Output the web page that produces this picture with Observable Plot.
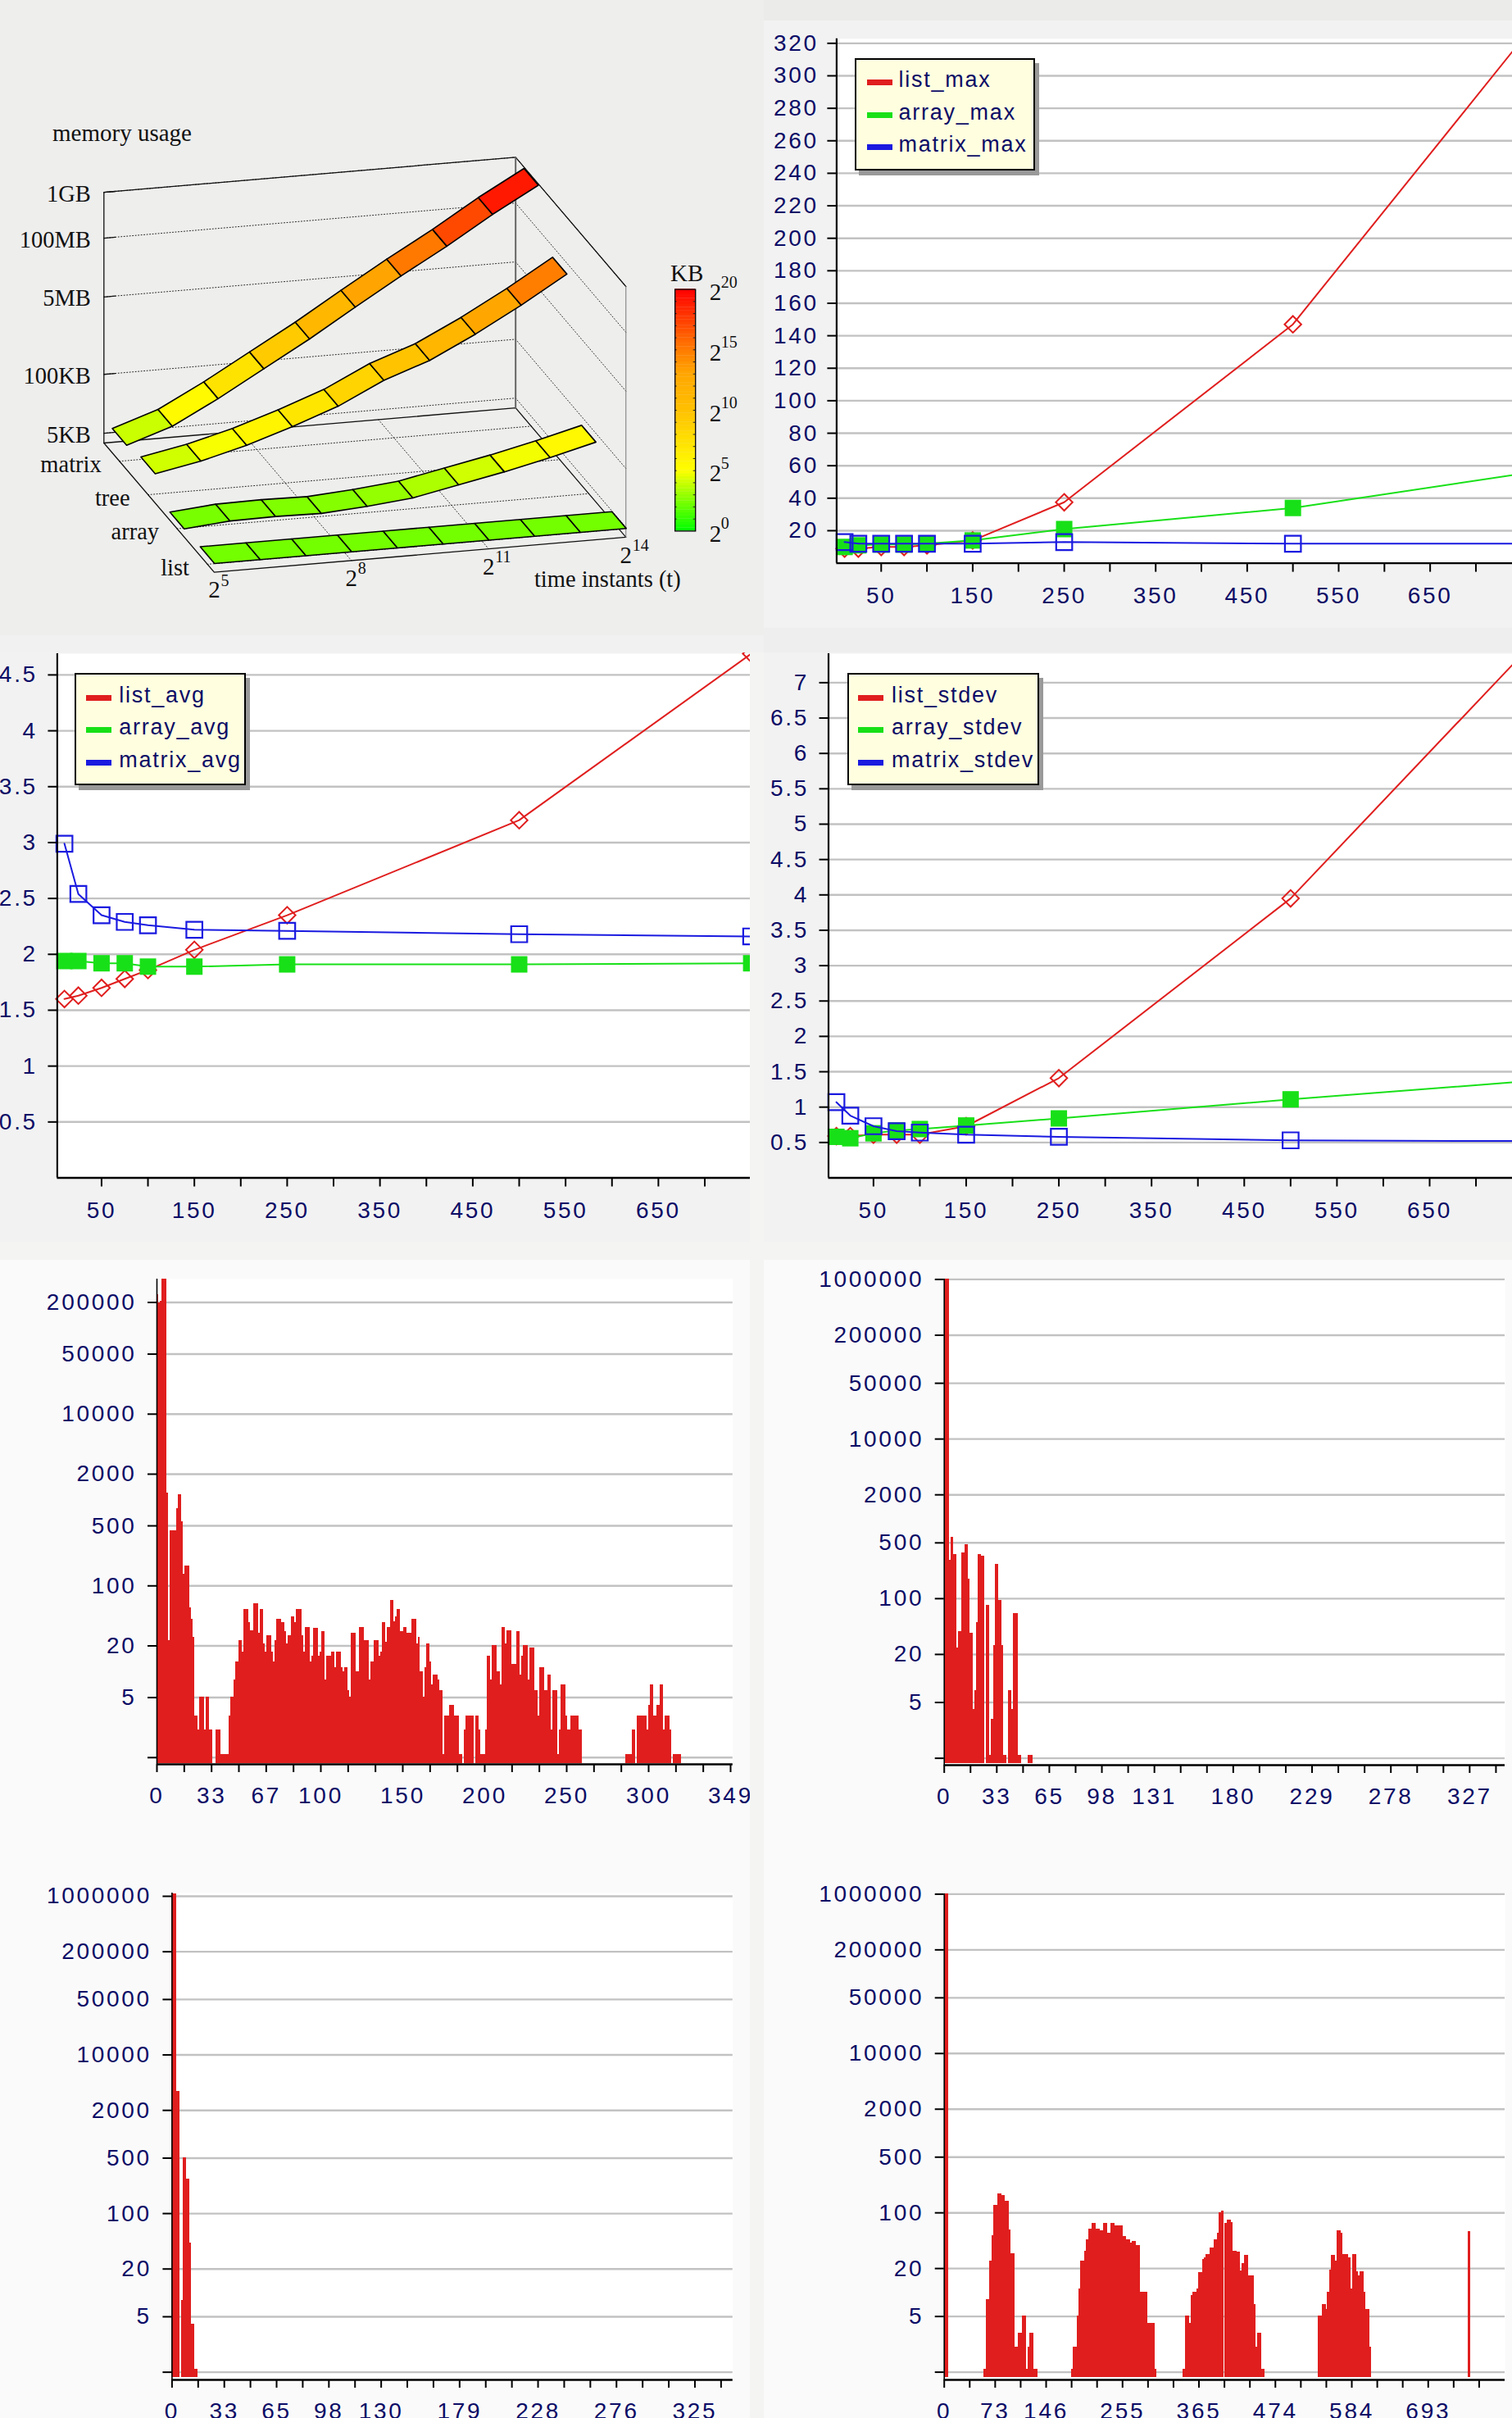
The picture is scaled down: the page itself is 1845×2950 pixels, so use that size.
<!DOCTYPE html>
<html><head><meta charset="utf-8">
<script src="https://cdn.jsdelivr.net/npm/d3@7"></script>
<script src="https://cdn.jsdelivr.net/npm/@observablehq/plot@0.6"></script>
<style>
html,body{margin:0;padding:0;background:#f4f4f2}
#page{position:relative;width:1845px;height:2950px;overflow:hidden;background:#f4f4f2}
#page>*{position:absolute}
.legend{position:absolute;background:#ffffe0;border:2px solid #000;box-sizing:border-box;box-shadow:5px 6px 0 #999;font:27px "Liberation Sans",Arial,sans-serif;letter-spacing:1.75px;color:#0c0c66}
.legend .sw{position:absolute;height:7px}
.legend .tx{position:absolute;line-height:30px;white-space:pre}
</style></head><body><div id="page"></div>
<script>
// ---------- shared
const RED="#e01e1e",GREEN="#18e018",BLUE="#1a1ae0",NAVY="#0c0c66",GRID="#c2c2c2";
const SANS='"Liberation Sans",Arial,sans-serif',SERIF='"Liberation Serif","Times New Roman",serif';

// ---------- 3D memory chart (log2 of KB)
const timeExps=[5,6,7,8,9,10,11,12,13,14];
const memMatrix=[3.39,4.5,6.24,8.15,10.05,12.1,14.1,16.0,18.05,19.9];
const memTree=[3.75,4.4,5.27,6.36,7.57,9.18,10.36,12.0,13.84,15.84];
const memArray=[2.2,2.5,2.54,2.48,2.72,3.05,3.72,4.39,5.15,6.0];
const memList=[2.27,2.27,2.27,2.27,2.27,2.27,2.27,2.27,2.27,2.27];
const categories=["matrix","tree","array","list"];
const categoryDepth=[0.141,0.40,0.663,0.938];
const memLabels=["5KB","100KB","5MB","100MB","1GB"];
const memTicks=[2.32,6.64,12.32,16.64,20];
const timeTicks=[5,8,11,14];
const colorStops=[0,5,10,13,15,20];
const colorHues=["#00ff00","#ffff00","#ffc000","#ffa600","#ff7a00","#ff0000"];

// ---------- line charts
const tValues=[10,25,50,75,100,150,250,500,750];
const listMax=[9,9,10,10,11,14,37.5,147,322];
const arrayMax=[10,11,11.5,11.5,12,14,21,34,55];
const matrixMax=[13,12,12,12,12,12,13,12,12];
const listAvg=[1.6,1.63,1.7,1.78,1.86,2.04,2.35,3.2,4.69];
const arrayAvg=[1.94,1.94,1.92,1.92,1.89,1.89,1.91,1.91,1.92];
const matrixAvg=[2.99,2.54,2.35,2.29,2.26,2.22,2.21,2.18,2.16];
const listStdev=[.59,.59,.61,.61,.61,.73,1.41,3.95,7.4];
const arrayStdev=[.58,.56,.63,.67,.69,.74,.84,1.11,1.36];
const matrixStdev=[1.07,.88,.73,.66,.64,.61,.58,.53,.52];

// ---------- histograms (counts per bin)
const hist1=[246000,196000,208000,374000,374000,374000,1213,23,434,434,434,434,796,1160,1160,553,137,172,172,172,56,41,25,3,3,2,5,5,5,2,5,5,2,2,0,0,2,2,2,1,1,1,1,1,3,5,5,8,13,13,23,23,17,53,53,53,37,30,30,62,62,62,28,53,53,21,17,26,26,26,17,13,23,41,41,41,37,37,29,21,26,26,44,44,37,53,53,53,26,17,33,33,33,13,15,32,32,32,15,17,29,29,8,15,15,15,17,17,11,17,17,17,11,10,11,11,6,5,28,28,28,10,10,33,33,33,23,23,23,8,13,13,23,23,23,15,17,37,37,22,33,33,68,68,38,44,53,53,29,29,33,33,28,28,28,41,41,41,21,25,10,10,5,11,21,21,13,7,9,9,9,8,6,6,1,3,3,3,4,4,4,3,3,3,1,1,0,2,3,3,3,3,3,0,3,3,2,1,1,1,2,15,15,8,20,20,20,10,10,7,33,33,21,30,30,30,12,12,12,29,29,9,15,20,20,20,8,19,19,19,6,6,3,11,11,11,6,6,9,9,2,6,6,6,1,2,7,7,7,3,2,2,3,3,3,3,3,2,2,0,0,0,0,0,0,0,0,0,0,0,0,0,0,0,0,0,0,0,0,0,0,0,0,0,0,1,1,1,1,2,2,0,3,3,3,3,3,3,2,4,7,7,3,3,4,4,7,7,2,3,3,3,2,0,1,1,1,1,1];
const hist2=[1000000,1000000,1000000,303,583,583,355,355,24,39,39,374,374,472,472,175,37,37,4,7,50,355,355,337,337,0,82,82,1,3,3,26,267,267,95,95,26,1,1,0,7,7,4,65,65,65,1,1,0,0,0,0,1,1,1];
const hist3=[1070000,1070000,1070000,3470,3470,0,8,501,501,270,270,42,4,4,1,1];
const hist4Edges=[0,6,56.7,60.2,64.9,68.4,70.8,76.6,82.5,87.2,93.1,95.4,101.3,106,111.8,117.7,120,122.4,128.3,134.1,182.2,184.6,190.5,192.8,195.2,201,203.4,206.9,211.6,217.5,223.3,228,233.9,238.6,244.4,256.2,260.9,266.7,269.1,275,280.8,291.4,302,304.3,341.9,345.4,351.3,353.7,356,361.9,364.2,370.1,372.4,374.8,380.6,386.5,391.2,393.6,397.1,400.6,401.8,405.3,411.2,413.5,419.4,424.1,426.4,429.9,435.8,444,446.4,448.7,454.6,459.3,535.6,541.4,547.3,548.5,552,554.3,560.2,562.6,568.4,570.8,579,582.5,584.9,590.7,593.1,595.4,601.3,603.6,609.5,611.8,750,754];
const hist4Counts=[1000000,0,1,8,24.5,52,125,175,167,141,61.6,30.3,2,3,5,1,2,3,1,0,1,2,5,11,24.5,33,46,62,73,62,59,73,55,73,69.5,50,46,42,44,39,10,4,1,0,1,5,4,9,10,11,17.6,25.7,27,30,36,46,55,101,106,0,73,82,76,33,32,18.4,23,29,16,7,2,3,1,0,5,7,6,10,19,29,25,59,55,30,27,11,30,18,16,18,10,6,2,0,58];
const histYTicks=[1,5,20,100,500,2000,10000,50000,200000,1000000];
const hist1XLabels={0:"0",2:"33",4:"67",6:"100",9:"150",12:"200",15:"250",18:"300",21:"349"};
const hist2XLabels={0:"0",2:"33",4:"65",6:"98",8:"131",11:"180",14:"229",17:"278",20:"327"};
const hist3XLabels={0:"0",2:"33",4:"65",6:"98",8:"130",11:"179",14:"228",17:"276",20:"325"};
const hist4XLabels={0:"0",2:"73",4:"146",7:"255",10:"365",13:"474",16:"584",19:"693"};

const page=document.getElementById("page");
function bg(l,t,w,h,c){const e=document.createElement("div");e.style.cssText=`left:${l}px;top:${t}px;width:${w}px;height:${h}px;background:${c}`;page.appendChild(e);}
function place(svg,l,t){svg.style.position="absolute";svg.style.left=l+"px";svg.style.top=t+"px";svg.style.background="transparent";svg.style.maxWidth="none";page.appendChild(svg);}

bg(0,0,932,775,"#eeeeed");bg(0,775,932,21,"#f1f1f1");
bg(932,0,913,25,"#ebebe9");bg(932,25,913,741,"#f2f2f2");bg(932,766,913,30,"#eeeeee");
bg(0,796,915,719,"#f2f2f2");bg(932,796,913,719,"#f2f2f2");
bg(0,1537,915,713,"#fafafa");bg(932,1537,913,713,"#fafafa");
bg(0,2250,915,700,"#fafafa");bg(932,2250,913,700,"#fafafa");

// ========== panel 1: 3D view
const view={ox:126.3,oy:540,tx:55.82,ty:-4.756,dx:134.6,dy:157.7,zs:16.62,z0:1.6,half:0.065};
const px=p=>view.ox+(p.t-5)*view.tx+p.d*view.dx;
const py=p=>view.oy+(p.t-5)*view.ty+p.d*view.dy-(p.z-view.z0)*view.zs;
const zTop=20;
const seg=(id,...pts)=>pts.map(([t,d,z])=>({id,t,d,z}));
const frameSolid=[
 ...seg("floor",[5,0,view.z0],[14,0,view.z0],[14,1,view.z0],[5,1,view.z0],[5,0,view.z0]),
 ...seg("left",[5,0,view.z0],[5,0,zTop],[14,0,zTop],[14,1,zTop])];
const frameBack=seg("back",[14,0,zTop],[14,0,view.z0]);
const frameRight=seg("right",[14,1,zTop],[14,1,view.z0]);
const dotted=[
 ...memTicks.flatMap((z,i)=>seg("w"+i,[5,0,z],[14,0,z],[14,1,z])),
 ...categoryDepth.flatMap((d,i)=>seg("c"+i,[5,d,view.z0],[14,d,view.z0])),
 ...timeTicks.slice(1,3).flatMap(t=>seg("t"+t,[t,0,view.z0],[t,1,view.z0]))];
const zTicks=memTicks.flatMap((z,i)=>seg("zt"+i,[5,0,z],[5.25,0,z]));
const memSeries=[memMatrix,memTree,memArray,memList];
const cells=memSeries.flatMap((vals,k)=>vals.slice(0,-1).flatMap((z,i)=>{
  const d=categoryDepth[k],z2=vals[i+1],t=timeExps[i],t2=timeExps[i+1],m=(z+z2)/2,id=k+"-"+i;
  return [[t,d-view.half,z],[t2,d-view.half,z2],[t2,d+view.half,z2],[t,d+view.half,z]].map(([t,d,z])=>({id,t,d,z,m,k}));
}));
const colorScale={type:"linear",domain:colorStops,range:colorHues};
const timeLabelData=timeTicks.map(t=>({t,d:1,z:view.z0}));
place(Plot.plot({
  width:932,height:775,margin:0,
  x:{domain:[0,932],range:[0,932],axis:null},y:{domain:[0,775],range:[0,775],axis:null},
  color:colorScale,
  style:{fontFamily:SERIF,color:"#111"},
  marks:[
    Plot.line(dotted,{x:px,y:py,z:"id",stroke:"#222",strokeWidth:1,strokeDasharray:"1,2.5"}),
    Plot.line(frameSolid,{x:px,y:py,z:"id",stroke:"#111",strokeWidth:1.3}),
    Plot.line(frameBack,{x:px,y:py,z:"id",stroke:"#666",strokeWidth:2}),
    Plot.line(frameRight,{x:px,y:py,z:"id",stroke:"#777",strokeWidth:1}),
    Plot.line(zTicks,{x:px,y:py,z:"id",stroke:"#111",strokeWidth:1.3}),
    Plot.line(cells,{x:px,y:py,z:"id",fill:"m",stroke:"#000",strokeWidth:1.6,curve:"linear-closed"}),
    Plot.text(memLabels,{x:(d,i)=>px({t:5,d:0}),y:(d,i)=>py({t:5,d:0,z:memTicks[i]})+2,text:d=>d,textAnchor:"end",dx:-16,fontSize:28.5,fill:"#111"}),
    Plot.text(categories,{x:(d,i)=>px({t:5,d:categoryDepth[i]}),y:(d,i)=>py({t:5,d:categoryDepth[i],z:view.z0}),text:d=>d,textAnchor:"end",dx:-22,dy:4,fontSize:28.5,fill:"#111"}),
    Plot.text(timeLabelData,{x:px,y:py,text:()=>"2",dy:22,fontSize:29,fill:"#111"}),
    Plot.text(timeLabelData,{x:px,y:py,text:d=>String(d.t),textAnchor:"start",dx:8,dy:10,fontSize:20,fill:"#111"}),
    Plot.text(["time instants (t)"],{x:()=>px({t:14,d:1}),y:()=>py({t:14,d:1,z:view.z0}),text:d=>d,textAnchor:"end",dx:67,dy:51,fontSize:28.5,fill:"#111"}),
    Plot.text(["memory usage"],{frameAnchor:"top-left",text:d=>d,dx:63.5,dy:151,fontSize:29,fill:"#111"})
  ]
}),0,0);

// colour bar
const barSteps=d3.range(0,20,0.25);
const barMinor=d3.range(1,20);
const barLabels=[0,5,10,15,20];
place(Plot.plot({
  width:132,height:350,marginLeft:23.2,marginRight:83.8,marginTop:32.6,marginBottom:22.6,
  x:{domain:[0,1],axis:null},y:{domain:[0,20],axis:null},color:colorScale,
  style:{fontFamily:SERIF,overflow:"visible"},
  marks:[
    Plot.rect(barSteps,{x1:0,x2:1,y1:d=>d,y2:d=>d+.27,fill:d=>d+.125}),
    Plot.ruleY(barMinor,{x1:0,x2:.1,stroke:"#222",strokeWidth:1}),
    Plot.ruleY(barMinor,{x1:.9,x2:1,stroke:"#222",strokeWidth:1}),
    Plot.frame({stroke:"#000",strokeWidth:1.3}),
    Plot.text(barLabels,{x:1,y:d=>d,text:()=>"2",textAnchor:"start",dx:17,dy:4,fontSize:29,fill:"#111"}),
    Plot.text(barLabels,{x:1,y:d=>d,text:String,textAnchor:"start",dx:31,dy:-9,fontSize:20,fill:"#111"}),
    Plot.text(["KB"],{frameAnchor:"top",text:d=>d,dx:2,dy:-19,lineAnchor:"middle",fontSize:29,fill:"#111"})
  ]
}),800,320);

// ========== line panels
const xTickValues=d3.range(50,751,50);
function linePanel(c){
  const rows=(vals)=>tValues.map((t,i)=>({t,v:vals[i]}));
  const [a,b,m]=c.series.map(rows);
  const lineOpts={x:"t",y:"v",strokeWidth:2};
  return Plot.plot({
    width:c.width,height:c.height,marginLeft:c.ml,marginRight:0,marginTop:c.mt,marginBottom:c.mb,
    x:{domain:c.xd,axis:null},y:{domain:c.yd,axis:null},
    style:{fontFamily:SANS,letterSpacing:"2.7px"},
    marks:[
      Plot.frame({fill:"white",stroke:null}),
      Plot.ruleY(c.yTicks,{stroke:GRID,strokeWidth:2.4}),
      Plot.line(a,{...lineOpts,stroke:RED}),
      Plot.dot(a,{x:"t",y:"v",symbol:"diamond2",r:9.2,stroke:RED,strokeWidth:2,fill:"none"}),
      Plot.line(b,{...lineOpts,stroke:GREEN}),
      Plot.dot(b,{x:"t",y:"v",symbol:"square",r:11.3,fill:GREEN,stroke:"none"}),
      Plot.line(m,{...lineOpts,stroke:BLUE}),
      Plot.dot(m,{x:"t",y:"v",symbol:"square",r:11,stroke:BLUE,strokeWidth:2.2,fill:"none"}),
      Plot.ruleX([c.xd[0]],{stroke:"#000",strokeWidth:2.2}),
      Plot.ruleY([c.yd[0]],{stroke:"#000",strokeWidth:2.4}),
      Plot.axisY({ticks:c.yTicks,tickSize:11,tickPadding:c.ypad,stroke:"#000",strokeWidth:2,fill:NAVY,fontSize:28,tickFormat:String,label:null}),
      Plot.axisX({ticks:xTickValues,tickSize:11,tickPadding:18,stroke:"#000",strokeWidth:2,fill:NAVY,fontSize:28,label:null,
        tickFormat:d=>d%100===50&&d<700?String(d):""})
    ]
  });
}
place(linePanel({width:913,height:741,ml:88.4,mt:21.8,mb:79.4,xd:[1.3,739.9],yd:[0,322.8],
  yTicks:d3.range(20,321,20),ypad:11,series:[listMax,arrayMax,matrixMax]}),932,25);
place(linePanel({width:915,height:719,ml:69.4,mt:1,mb:78.5,xd:[2.3,749],yd:[0,4.69],
  yTicks:d3.range(.5,4.6,.5),ypad:13,series:[listAvg,arrayAvg,matrixAvg]}),0,796);
place(linePanel({width:913,height:719,ml:78.5,mt:1,mb:78.5,xd:[1.5,739.3],yd:[0,7.41],
  yTicks:d3.range(.5,7.1,.5),ypad:13,series:[listStdev,arrayStdev,matrixStdev]}),932,796);

function legend(l,t,w,h,swx,txx,rowsY,labels){
  const e=document.createElement("div");e.className="legend";
  e.style.cssText=`left:${l}px;top:${t}px;width:${w}px;height:${h}px`;
  [RED,GREEN,BLUE].forEach((col,i)=>{
    const s=document.createElement("div");s.className="sw";s.style.cssText=`left:${swx}px;top:${rowsY[i]-2}px;width:31px;background:${col}`;e.appendChild(s);
    const x=document.createElement("div");x.className="tx";x.style.cssText=`left:${txx}px;top:${rowsY[i]-17}px`;x.textContent=labels[i];e.appendChild(x);
  });
  page.appendChild(e);
}
legend(1042.6,71,220.4,137,13,52,[26,65.5,105],["list_max","array_max","matrix_max"]);
legend(91.3,821,208.7,136.5,12,52,[26.6,66,106],["list_avg","array_avg","matrix_avg"]);
legend(1033.9,821,234,136.5,11,52,[26.6,66,106],["list_stdev","array_stdev","matrix_stdev"]);

// ========== histograms
function histPanel(c){
  const xTicks=d3.range(c.nTicks).map(i=>i*c.tickStep);
  return Plot.plot({
    width:c.width,height:c.height,marginLeft:c.ml,marginRight:c.mr,marginTop:c.mt,marginBottom:c.mb,
    x:{domain:c.xd,axis:null},y:{type:"log",domain:c.yd,axis:null},
    style:{fontFamily:SANS,letterSpacing:"2.7px"},
    marks:[
      Plot.frame({fill:"white",stroke:null}),
      Plot.ruleY(c.yTicks,{stroke:GRID,strokeWidth:2.4}),
      Plot.rect(c.bars,{x1:"x1",x2:"x2",y1:()=>.85,y2:d=>d.c+.08,fill:RED,clip:true,shapeRendering:"crispEdges"}),
      Plot.ruleX([c.xd[0]],{stroke:"#000",strokeWidth:1.6}),
      Plot.ruleY([c.yd[0]],{stroke:"#000",strokeWidth:2.4}),
      Plot.axisY(c.yTicks,{tickSize:11,stroke:"#000",strokeWidth:2,fill:"none",tickFormat:()=>"",label:null}),
      Plot.text(c.yTicks.slice(1),{frameAnchor:"left",y:d=>d,text:d=>String(d),textAnchor:"end",dx:-25,fontSize:28,fill:NAVY}),
      Plot.axisX({ticks:xTicks,tickSize:10,tickPadding:18,stroke:"#000",strokeWidth:2,fill:NAVY,fontSize:28,label:null,
        tickFormat:d=>c.labels[Math.round(d/c.tickStep)]||""})
    ]
  });
}
const perBin=a=>a.map((c,i)=>({x1:i,x2:i+1,c})).filter(d=>d.c>0);
const runBars=hist4Counts.map((c,i)=>({x1:hist4Edges[i],x2:hist4Edges[i+1],c})).filter(d=>d.c>0);
const h1Ticks=histYTicks.filter(d=>d<=200000);
place(histPanel({width:915,height:713,ml:191,mr:21.2,mt:23,mb:98,xd:[0,350.4],yd:[.835,374000],yTicks:h1Ticks,
  bars:perBin(hist1),nTicks:22,tickStep:349/21,labels:hist1XLabels}),0,1537);
place(histPanel({width:913,height:713,ml:219.7,mr:9,mt:23,mb:97,xd:[0,349],yd:[.82,1010000],yTicks:histYTicks,
  bars:perBin(hist2),nTicks:22,tickStep:327/20,labels:hist2XLabels}),932,1537);
place(histPanel({width:915,height:700,ml:209.4,mr:21.2,mt:59,mb:47,xd:[0,348.6],yd:[.80,1100000],yTicks:histYTicks,
  bars:perBin(hist3),nTicks:22,tickStep:325/20,labels:hist3XLabels}),0,2250);
place(histPanel({width:913,height:700,ml:219.7,mr:9,mt:60,mb:47,xd:[0,803],yd:[.80,1010000],yTicks:histYTicks,
  bars:runBars,nTicks:22,tickStep:693/19,labels:hist4XLabels}),932,2250);
</script></body></html>
